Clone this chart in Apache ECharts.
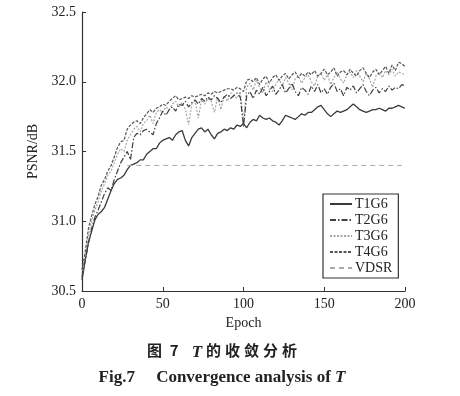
<!DOCTYPE html>
<html><head><meta charset="utf-8">
<script src="https://cdn.jsdelivr.net/npm/echarts@6/dist/echarts.min.js"></script>
<style>html,body{margin:0;padding:0;background:#fff}#c{width:460px;height:396px}</style>
</head><body><div id="c"></div>
<script>
const epochs = [0,2,4,6,8,10,12,14,16,18,20,22,24,26,28,30,32,34,36,38,40,42,44,46,48,50,52,54,56,58,60,62,64,66,68,70,72,74,76,78,80,82,84,86,88,90,92,94,96,98,100,102,104,106,108,110,112,114,116,118,120,122,124,126,128,130,132,134,136,138,140,142,144,146,148,150,152,154,156,158,160,162,164,166,168,170,172,174,176,178,180,182,184,186,188,190,192,194,196,198,200];
const t1g6 = [30.58,30.72,30.85,30.93,31.01,31.05,31.07,31.10,31.16,31.22,31.27,31.30,31.31,31.33,31.37,31.40,31.41,31.42,31.44,31.44,31.48,31.50,31.52,31.52,31.56,31.58,31.59,31.60,31.58,31.62,31.64,31.65,31.58,31.54,31.60,31.63,31.66,31.67,31.64,31.66,31.62,31.59,31.63,31.64,31.66,31.65,31.67,31.66,31.69,31.68,31.70,31.67,31.71,31.73,31.72,31.76,31.74,31.73,31.74,31.72,31.71,31.69,31.72,31.76,31.75,31.74,31.73,31.75,31.77,31.76,31.78,31.78,31.80,31.82,31.83,31.80,31.77,31.75,31.77,31.79,31.78,31.79,31.80,31.82,31.84,31.82,31.80,31.79,31.78,31.79,31.80,31.80,31.81,31.80,31.79,31.81,31.81,31.82,31.83,31.82,31.81];
const t2g6 = [30.60,30.72,30.84,30.95,31.03,31.08,31.14,31.20,31.24,31.22,31.30,31.36,31.42,31.46,31.50,31.44,31.60,31.63,31.62,31.65,31.66,31.64,31.62,31.70,31.74,31.79,31.76,31.80,31.82,31.79,31.84,31.83,31.86,31.82,31.85,31.87,31.84,31.88,31.86,31.89,31.87,31.90,31.88,31.85,31.89,31.91,31.88,31.90,31.92,31.89,31.68,31.90,31.93,31.88,31.94,31.91,31.96,31.90,31.93,31.97,31.91,31.94,31.98,31.92,31.95,31.99,31.93,31.90,31.96,31.94,31.91,31.97,31.93,31.98,31.92,31.95,31.91,31.96,31.99,31.93,31.95,31.90,31.96,31.94,31.97,31.92,31.95,31.98,31.93,31.90,31.94,31.96,31.92,31.95,31.93,31.97,31.94,31.96,31.95,31.98,31.97];
const t3g6 = [30.62,30.75,30.90,31.00,31.08,31.14,31.22,31.27,31.33,31.36,31.42,31.48,31.52,31.50,31.58,31.62,31.66,31.68,31.64,31.70,31.72,31.76,31.70,31.78,31.80,31.78,31.82,31.80,31.84,31.86,31.82,31.85,31.80,31.69,31.84,31.86,31.74,31.87,31.84,31.88,31.86,31.78,31.89,31.80,31.90,31.86,31.92,31.90,31.88,31.93,31.72,31.96,31.99,31.94,32.01,31.96,31.92,32.00,31.95,31.93,31.98,32.02,31.97,32.03,31.99,31.94,32.02,32.04,31.99,32.03,32.05,32.00,31.97,32.04,32.06,32.01,32.05,31.98,32.03,32.07,32.02,31.99,32.05,32.07,32.03,32.08,32.04,32.00,32.06,32.02,31.96,32.04,32.07,32.03,32.08,32.05,32.09,32.04,32.07,32.06,32.05];
const t4g6 = [30.65,30.78,30.95,31.04,31.12,31.18,31.26,31.30,31.36,31.40,31.46,31.53,31.57,31.58,31.66,31.69,31.71,31.72,31.70,31.74,31.77,31.80,31.78,31.81,31.82,31.84,31.83,31.86,31.88,31.90,31.87,31.88,31.89,31.88,31.90,31.89,31.90,31.91,31.90,31.92,31.91,31.93,31.92,31.93,31.94,31.95,31.95,31.94,31.96,31.95,31.93,32.01,32.02,32.00,32.03,31.98,32.02,32.04,31.99,32.03,32.05,32.01,32.04,32.06,32.02,32.05,32.07,32.03,32.06,32.04,32.07,32.05,32.08,32.04,32.06,32.09,32.05,32.07,32.10,32.04,32.07,32.08,32.05,32.09,32.06,32.04,32.08,32.10,32.06,32.03,32.07,32.09,32.05,32.08,32.11,32.06,32.12,32.08,32.14,32.13,32.11];
const vdsrEpochs = [28,198];
const vdsrValues = [31.40,31.40];
const yTicks = [30.5,31.0,31.5,32.0,32.5];
const xTicks = [0,50,100,150,200];
const seriesNames = ['T1G6','T2G6','T3G6','T4G6','VDSR'];

function pairs(xs, ys){ return xs.map((x,i)=>[x, ys[i]]); }
const serif = '"Liberation Serif","DejaVu Serif",serif';
const cjk = '"Noto Sans CJK SC",sans-serif';
const chart = echarts.init(document.getElementById('c'), null, {renderer:'canvas'});
function lineSeries(name, xs, ys, color, type, width){
  return {name, type:'line', data:pairs(xs,ys), showSymbol:false, symbol:'none', animation:false,
    lineStyle:{color, width, type}, itemStyle:{color}};
}
const cjkTok = {fontFamily:cjk, fontWeight:'bold', fontSize:15, fill:'#222', padding:[0,2,0,2], lineHeight:20, verticalAlign:'middle'};
chart.setOption({
  animation:false,
  grid:{left:82, right:55, top:12, bottom:105},
  xAxis:{type:'value', min:xTicks[0], max:xTicks[xTicks.length-1], interval:50,
    name:'Epoch', nameLocation:'middle', nameGap:21,
    nameTextStyle:{fontFamily:serif, fontSize:14, color:'#222'},
    axisLine:{lineStyle:{color:'#333', width:1.2}},
    axisTick:{inside:true, length:4, lineStyle:{color:'#333'}},
    axisLabel:{fontFamily:serif, fontSize:14, color:'#222', margin:6},
    splitLine:{show:false}},
  yAxis:{type:'value', min:yTicks[0], max:yTicks[yTicks.length-1], interval:0.5,
    name:'PSNR/dB', nameLocation:'middle', nameGap:37, nameRotate:90,
    nameTextStyle:{fontFamily:serif, fontSize:14, color:'#222'},
    axisLine:{show:true, lineStyle:{color:'#333', width:1.2}},
    axisTick:{show:true, inside:true, length:4, lineStyle:{color:'#333'}},
    axisLabel:{fontFamily:serif, fontSize:14, color:'#222', margin:6, formatter:v=>v.toFixed(1)},
    splitLine:{show:false}},
  legend:{orient:'vertical', left:323, top:194, data:seriesNames,
    itemWidth:22, itemHeight:13, itemGap:2, padding:[3,6,3,6],
    itemStyle:{opacity:0},
    borderColor:'#333', borderWidth:1.2, backgroundColor:'#fff',
    textStyle:{fontFamily:serif, fontSize:14, color:'#222', padding:[0,0,0,-2]}},
  series:[
    lineSeries('T1G6', epochs, t1g6, '#3a3a3a', 'solid', 1.3),
    lineSeries('T3G6', epochs, t3g6, '#a6a6a6', [2,1.5], 1.2),
    lineSeries('T2G6', epochs, t2g6, '#404040', [6,2,1.5,2], 1.2),
    lineSeries('T4G6', epochs, t4g6, '#555555', [3,1.5], 1.2),
    lineSeries('VDSR', vdsrEpochs, vdsrValues, '#aaaaaa', [5,4], 1)
  ],
  graphic:[
    {type:'text', x:222, y:350, style:{
      text:'{a|图}{s| }{a|7}{s|   }{b|T}{a|的}{a|收}{a|敛}{a|分}{a|析}',
      align:'center', verticalAlign:'middle',
      rich:{
        a:cjkTok,
        s:{fontFamily:serif, fontSize:15, lineHeight:20, verticalAlign:'middle'},
        b:{fontFamily:serif, fontWeight:'bold', fontStyle:'italic', fontSize:17, fill:'#222', padding:[6,2,0,0], lineHeight:20, verticalAlign:'middle'}
      }}},
    {type:'text', x:222, y:378, style:{
      text:'{a|Fig.7     Convergence analysis of }{b|T}',
      align:'center', verticalAlign:'middle',
      rich:{
        a:{fontFamily:serif, fontWeight:'bold', fontSize:17, fill:'#222'},
        b:{fontFamily:serif, fontWeight:'bold', fontStyle:'italic', fontSize:17, fill:'#222'}
      }}}
  ]
});
</script></body></html>
